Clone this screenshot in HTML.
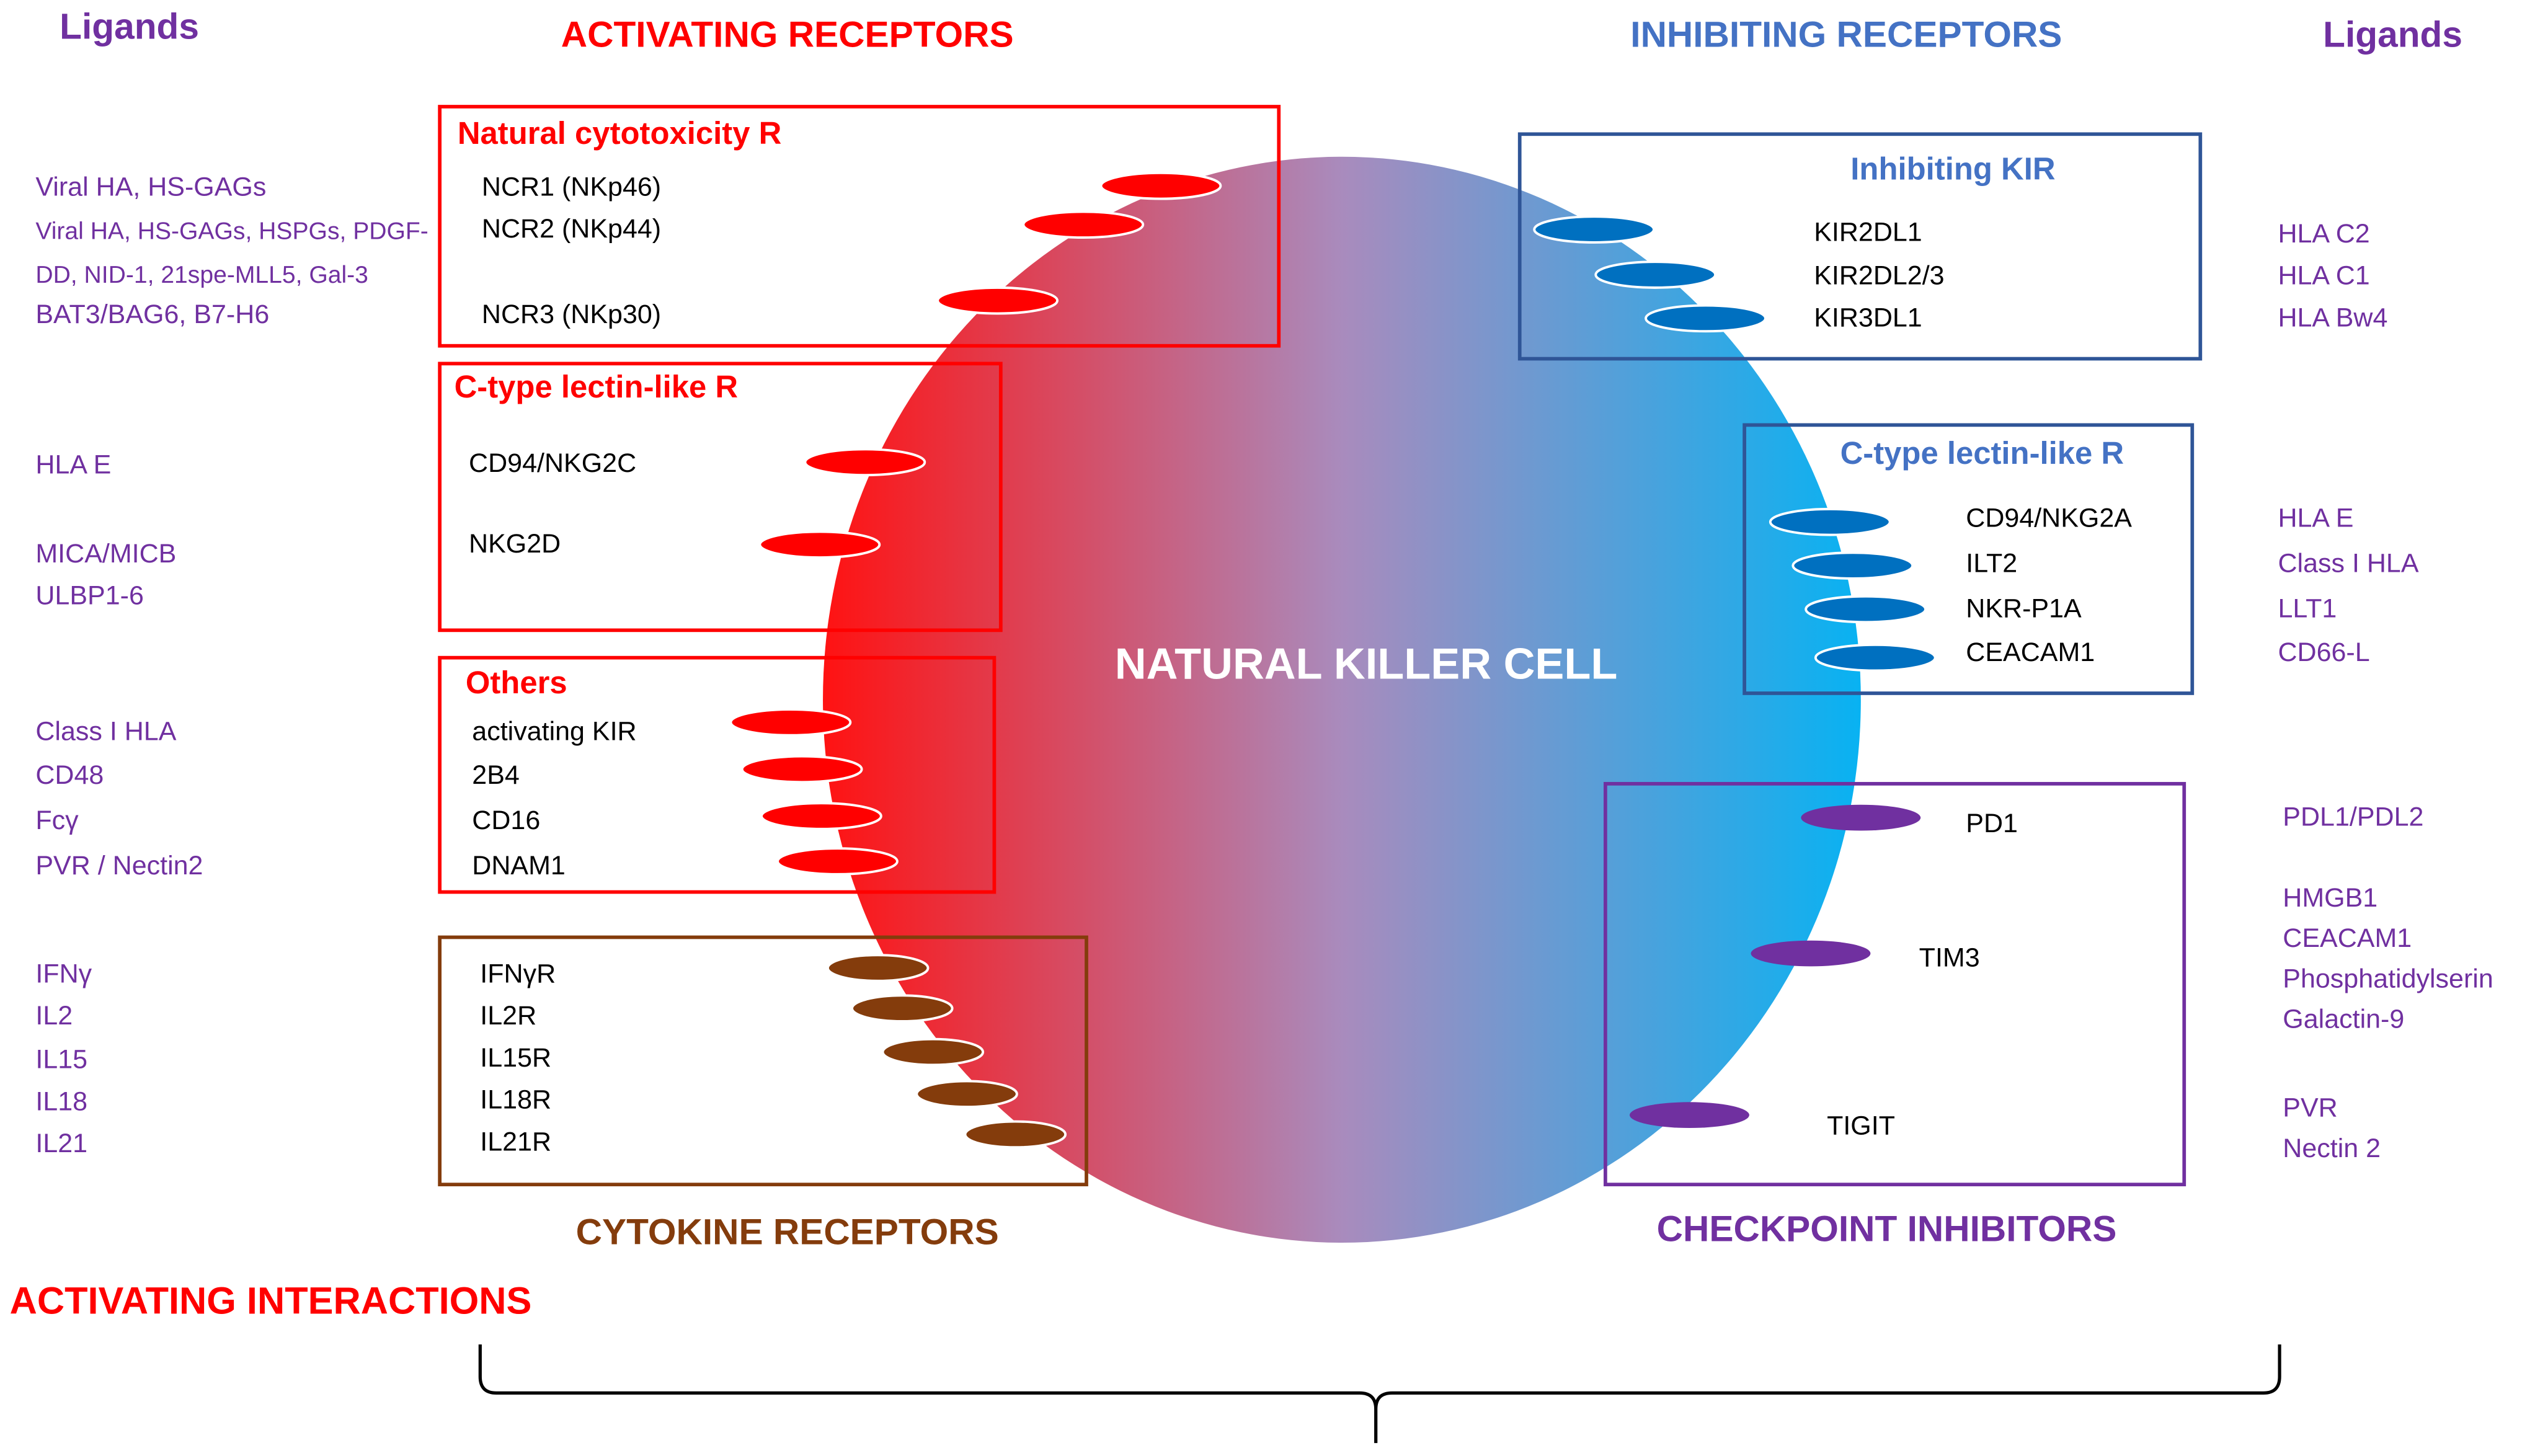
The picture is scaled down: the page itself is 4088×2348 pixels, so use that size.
<!DOCTYPE html>
<html><head><meta charset="utf-8"><style>html,body{margin:0;padding:0;background:#fff}svg{display:block}text{font-family:"Liberation Sans",sans-serif}</style></head><body>
<svg width="4088" height="2348" viewBox="0 0 1568 901" preserveAspectRatio="none" xmlns="http://www.w3.org/2000/svg">
<defs><linearGradient id="g" x1="0" x2="1" y1="0" y2="0"><stop offset="0" stop-color="#ff1212"/><stop offset="0.5" stop-color="#a98bbd"/><stop offset="1" stop-color="#08b2f2"/></linearGradient></defs>
<ellipse cx="830" cy="433" rx="321" ry="336" fill="url(#g)"/>
<g fill="none" stroke-width="2.2">
<rect x="272" y="66" width="519" height="148" stroke="#ff0000"/>
<rect x="272" y="225" width="347" height="165" stroke="#ff0000"/>
<rect x="272" y="407" width="343" height="145" stroke="#ff0000"/>
<rect x="272" y="580" width="400" height="153" stroke="#843c0c"/>
<rect x="940" y="83" width="421" height="139" stroke="#2f5597"/>
<rect x="1079" y="263" width="277" height="166" stroke="#2f5597"/>
<rect x="993" y="485" width="358" height="248" stroke="#7030a0"/>
<path d="M297 832 V852 Q297 862 307 862 H841 Q851 862 851 872 V893 M851 872 Q851 862 861 862 H1400 Q1410 862 1410 852 V832" stroke="#000" stroke-width="2"/>
</g>
<g fill="#ff0000" stroke="#fff" stroke-width="1.5">
<ellipse cx="718" cy="115" rx="37" ry="8"/><ellipse cx="670" cy="139" rx="37" ry="8"/><ellipse cx="617" cy="186" rx="37" ry="8"/>
<ellipse cx="535" cy="286" rx="37" ry="8"/><ellipse cx="507" cy="337" rx="37" ry="8"/>
<ellipse cx="489" cy="447" rx="37" ry="8"/><ellipse cx="496" cy="476" rx="37" ry="8"/><ellipse cx="508" cy="505" rx="37" ry="8"/><ellipse cx="518" cy="533" rx="37" ry="8"/>
</g>
<g fill="#843c0c" stroke="#fff" stroke-width="1.5">
<ellipse cx="543" cy="599" rx="31" ry="8"/><ellipse cx="558" cy="624" rx="31" ry="8"/><ellipse cx="577" cy="651" rx="31" ry="8"/><ellipse cx="598" cy="677" rx="31" ry="8"/><ellipse cx="628" cy="702" rx="31" ry="8"/>
</g>
<g fill="#0070c0" stroke="#fff" stroke-width="1.5">
<ellipse cx="986" cy="142" rx="37" ry="8"/><ellipse cx="1024" cy="170" rx="37" ry="8"/><ellipse cx="1055" cy="197" rx="37" ry="8"/>
<ellipse cx="1132" cy="323" rx="37" ry="8"/><ellipse cx="1146" cy="350" rx="37" ry="8"/><ellipse cx="1154" cy="377" rx="37" ry="8"/><ellipse cx="1160" cy="407" rx="37" ry="8"/>
</g>
<g fill="#7030a0"><ellipse cx="1151" cy="506" rx="37" ry="8"/><ellipse cx="1120" cy="590" rx="37" ry="8"/><ellipse cx="1045" cy="690" rx="37" ry="8"/></g>
<g font-weight="bold" font-size="22.5">
<text x="487" y="29" fill="#ff0000" text-anchor="middle">ACTIVATING RECEPTORS</text>
<text x="1142" y="29" fill="#4472c4" text-anchor="middle">INHIBITING RECEPTORS</text>
<text x="80" y="24" fill="#7030a0" text-anchor="middle">Ligands</text>
<text x="1480" y="29" fill="#7030a0" text-anchor="middle">Ligands</text>
<text x="487" y="770" fill="#843c0c" text-anchor="middle">CYTOKINE RECEPTORS</text>
<text x="1167" y="768" fill="#7030a0" text-anchor="middle">CHECKPOINT INHIBITORS</text>
<text x="6" y="813" fill="#ff0000" font-size="23.5">ACTIVATING INTERACTIONS</text>
<text x="845" y="420" fill="#fff" text-anchor="middle" font-size="27">NATURAL KILLER CELL</text>
<text x="283" y="89" fill="#ff0000" font-size="19.5">Natural cytotoxicity R</text>
<text x="281" y="246" fill="#ff0000" font-size="19.5">C-type lectin-like R</text>
<text x="288" y="429" fill="#ff0000" font-size="19.5">Others</text>
<text x="1208" y="111" fill="#4472c4" font-size="19.5" text-anchor="middle">Inhibiting KIR</text>
<text x="1226" y="287" fill="#4472c4" font-size="19.5" text-anchor="middle">C-type lectin-like R</text>
</g>
<g font-size="16.5" fill="#000">
<text x="298" y="121">NCR1 (NKp46)</text><text x="298" y="147">NCR2 (NKp44)</text><text x="298" y="200">NCR3 (NKp30)</text>
<text x="290" y="292">CD94/NKG2C</text><text x="290" y="342">NKG2D</text>
<text x="292" y="458">activating KIR</text><text x="292" y="485">2B4</text><text x="292" y="513">CD16</text><text x="292" y="541">DNAM1</text>
<text x="297" y="608">IFNγR</text><text x="297" y="634">IL2R</text><text x="297" y="660">IL15R</text><text x="297" y="686">IL18R</text><text x="297" y="712">IL21R</text>
<text x="1122" y="149">KIR2DL1</text><text x="1122" y="176">KIR2DL2/3</text><text x="1122" y="202">KIR3DL1</text>
<text x="1216" y="326">CD94/NKG2A</text><text x="1216" y="354">ILT2</text><text x="1216" y="382">NKR-P1A</text><text x="1216" y="409">CEACAM1</text>
<text x="1216" y="515">PD1</text><text x="1187" y="598">TIM3</text><text x="1130" y="702">TIGIT</text>
</g>
<g font-size="16.5" fill="#7030a0">
<text x="22" y="121">Viral HA, HS-GAGs</text>
<text x="22" y="148" font-size="15">Viral HA, HS-GAGs, HSPGs, PDGF-</text>
<text x="22" y="175" font-size="15">DD, NID-1, 21spe-MLL5, Gal-3</text>
<text x="22" y="200">BAT3/BAG6, B7-H6</text>
<text x="22" y="293">HLA E</text><text x="22" y="348">MICA/MICB</text><text x="22" y="374">ULBP1-6</text>
<text x="22" y="458">Class I HLA</text><text x="22" y="485">CD48</text><text x="22" y="513">Fcγ</text><text x="22" y="541">PVR / Nectin2</text>
<text x="22" y="608">IFNγ</text><text x="22" y="634">IL2</text><text x="22" y="661">IL15</text><text x="22" y="687">IL18</text><text x="22" y="713">IL21</text>
<text x="1409" y="150">HLA C2</text><text x="1409" y="176">HLA C1</text><text x="1409" y="202">HLA Bw4</text>
<text x="1409" y="326">HLA E</text><text x="1409" y="354">Class I HLA</text><text x="1409" y="382">LLT1</text><text x="1409" y="409">CD66-L</text>
<text x="1412" y="511">PDL1/PDL2</text><text x="1412" y="561">HMGB1</text><text x="1412" y="586">CEACAM1</text><text x="1412" y="611">Phosphatidylserin</text><text x="1412" y="636">Galactin-9</text>
<text x="1412" y="691">PVR</text><text x="1412" y="716">Nectin 2</text>
</g>
</svg>
</body></html>
